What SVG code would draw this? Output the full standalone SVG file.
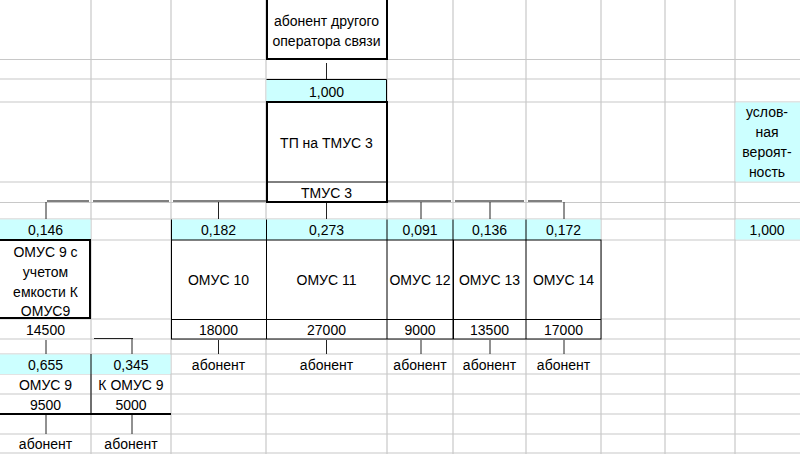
<svg xmlns="http://www.w3.org/2000/svg" width="800" height="454" viewBox="0 0 800 454">
<style>
.grid line{stroke:#c8c8c8;stroke-width:1.2}
.cy{fill:#ccffff}
.t{font-family:"Liberation Sans",Arial,sans-serif;font-size:14px;fill:#000;text-anchor:middle}
.bx{fill:#fff;stroke:#000;stroke-width:2}
.b1{stroke:#000;stroke-width:1;fill:none}
.bg{stroke:#909090;stroke-width:1;fill:none}
.bus{stroke:#808080;stroke-width:2;fill:none}
.con{stroke:#222;stroke-width:1;fill:none}
</style>
<rect x="0" y="0" width="800" height="454" fill="#fff"/>
<g class="grid">
<line x1="91" y1="0" x2="91" y2="454"/>
<line x1="171" y1="0" x2="171" y2="454"/>
<line x1="266" y1="0" x2="266" y2="454"/>
<line x1="387" y1="0" x2="387" y2="454"/>
<line x1="453" y1="0" x2="453" y2="454"/>
<line x1="526" y1="0" x2="526" y2="454"/>
<line x1="601" y1="0" x2="601" y2="454"/>
<line x1="665" y1="0" x2="665" y2="454"/>
<line x1="735" y1="0" x2="735" y2="454"/>
<line x1="0" y1="59.5" x2="800" y2="59.5"/>
<line x1="0" y1="79" x2="800" y2="79"/>
<line x1="0" y1="102" x2="800" y2="102"/>
<line x1="0" y1="182" x2="800" y2="182"/>
<line x1="0" y1="202.5" x2="800" y2="202.5"/>
<line x1="0" y1="219" x2="800" y2="219"/>
<line x1="0" y1="240" x2="800" y2="240"/>
<line x1="0" y1="319" x2="800" y2="319"/>
<line x1="0" y1="339" x2="800" y2="339"/>
<line x1="0" y1="354" x2="800" y2="354"/>
<line x1="0" y1="374" x2="800" y2="374"/>
<line x1="0" y1="394" x2="800" y2="394"/>
<line x1="0" y1="414" x2="800" y2="414"/>
<line x1="0" y1="434" x2="800" y2="434"/>
<line x1="0" y1="453" x2="800" y2="453"/>
</g>

<g id="connectors">
<line class="con" x1="326.5" y1="63" x2="326.5" y2="79"/>
<path class="bus" d="M47 201H89M93 201H169M173 201H266M388 201H451M455 201H524M528 201H562"/>
<line class="con" x1="326.5" y1="203" x2="326.5" y2="219"/>
<line class="con" x1="46" y1="202" x2="46" y2="219"/>
<line class="con" x1="218.5" y1="202" x2="218.5" y2="219"/>
<line class="con" x1="421" y1="202" x2="421" y2="219"/>
<line class="con" x1="490" y1="202" x2="490" y2="219"/>
<line class="con" x1="564" y1="202" x2="564" y2="219"/>
<line class="con" x1="46" y1="340" x2="46" y2="354"/>
<path class="con" d="M94 338.5H133"/>
<line class="con" x1="132" y1="338" x2="132" y2="354"/>
<line class="con" x1="218.5" y1="340" x2="218.5" y2="354"/>
<line class="con" x1="326.5" y1="340" x2="326.5" y2="354"/>
<line class="con" x1="421" y1="340" x2="421" y2="354"/>
<line class="con" x1="490" y1="340" x2="490" y2="354"/>
<line class="con" x1="564" y1="340" x2="564" y2="354"/>
<line class="con" x1="46" y1="415" x2="46" y2="434"/>
<line class="con" x1="132" y1="415" x2="132" y2="434"/>
</g>

<g id="n-other-operator">
<rect class="bx" x="267" y="-3" width="120" height="62"/>
<text class="t" x="326.5" y="26">абонент другого</text>
<text class="t" x="326.5" y="46">оператора связи</text>
</g>

<g id="n-p-top">
<rect class="cy" x="266.5" y="79.5" width="120" height="22.5"/>
<path class="b1" d="M266.5 79.5H386.5V102"/>
<text class="t" x="326.5" y="97">1,000</text>
</g>

<g id="n-tp-tmus3">
<rect class="bx" x="267" y="102" width="120" height="100"/>
<line class="b1" x1="267" y1="182" x2="387" y2="182"/>
<text class="t" x="326.5" y="148">ТП на ТМУС 3</text>
<text class="t" x="326.5" y="198">ТМУС 3</text>
</g>

<g id="n-legend">
<rect class="cy" x="735.5" y="102.5" width="64.5" height="79"/>
<text class="t" x="767" y="117">услов-</text>
<text class="t" x="767" y="137">ная</text>
<text class="t" x="767" y="157">вероят-</text>
<text class="t" x="767" y="177">ность</text>
<rect class="cy" x="735.5" y="219.5" width="64.5" height="20"/>
<text class="t" x="767" y="235">1,000</text>
</g>

<g id="n-omus9-total">
<rect class="cy" x="0" y="219.5" width="90.5" height="20.5"/>
<text class="t" x="45.5" y="235">0,146</text>
<path fill="#fff" stroke="#000" stroke-width="2" d="M-2 240H90V318H-2"/>
<line class="b1" x1="0" y1="240" x2="91" y2="240"/>
<text class="t" x="45.5" y="257">ОМУС 9 с</text>
<text class="t" x="45.5" y="277">учетом</text>
<text class="t" x="45.5" y="297">емкости К</text>
<text class="t" x="45.5" y="316">ОМУС9</text>
<text class="t" x="45.5" y="335">14500</text>
</g>

<g id="n-prob-row">
<rect class="cy" x="171.5" y="219.5" width="429" height="20.5"/>
<path class="b1" d="M171.5 219.5V240M266.5 219.5V240M387 219.5V240M453 219.5V240M526 219.5V240"/>
<text class="t" x="218.5" y="235">0,182</text>
<text class="t" x="326.5" y="235">0,273</text>
<text class="t" x="420" y="235">0,091</text>
<text class="t" x="489.5" y="235">0,136</text>
<text class="t" x="563.5" y="235">0,172</text>
</g>

<g id="n-omus10-14">
<rect fill="#fff" stroke="#000" stroke-width="1" x="171.5" y="240" width="429.5" height="99"/>
<line class="b1" x1="171.5" y1="319.5" x2="601" y2="319.5"/>
<path class="b1" d="M266.5 240V339M387 240V339M453 240V339M526 240V339"/>
<line stroke="#000" stroke-width="1" x1="453.5" y1="240" x2="453.5" y2="339"/>
<text class="t" x="218.5" y="285">ОМУС 10</text>
<text class="t" x="326.5" y="285">ОМУС 11</text>
<text class="t" x="420" y="285">ОМУС 12</text>
<text class="t" x="489.5" y="285">ОМУС 13</text>
<text class="t" x="563.5" y="285">ОМУС 14</text>
<text class="t" x="218.5" y="335">18000</text>
<text class="t" x="326.5" y="335">27000</text>
<text class="t" x="420" y="335">9000</text>
<text class="t" x="489.5" y="335">13500</text>
<text class="t" x="563.5" y="335">17000</text>
<text class="t" x="218.5" y="370">абонент</text>
<text class="t" x="326.5" y="370">абонент</text>
<text class="t" x="420" y="370">абонент</text>
<text class="t" x="489.5" y="370">абонент</text>
<text class="t" x="563.5" y="370">абонент</text>
</g>

<g id="n-omus9-split">
<rect class="cy" x="0" y="354.5" width="170.5" height="19.5"/>
<line class="b1" x1="91" y1="354" x2="91" y2="414"/>
<line stroke="#000" stroke-width="2" x1="0" y1="414" x2="171" y2="414"/>
<text class="t" x="45.5" y="370">0,655</text>
<text class="t" x="131" y="370">0,345</text>
<text class="t" x="45.5" y="390">ОМУС 9</text>
<text class="t" x="131" y="390">К ОМУС 9</text>
<text class="t" x="45.5" y="410">9500</text>
<text class="t" x="131" y="410">5000</text>
<text class="t" x="45.5" y="449">абонент</text>
<text class="t" x="131" y="449">абонент</text>
</g>
</svg>
